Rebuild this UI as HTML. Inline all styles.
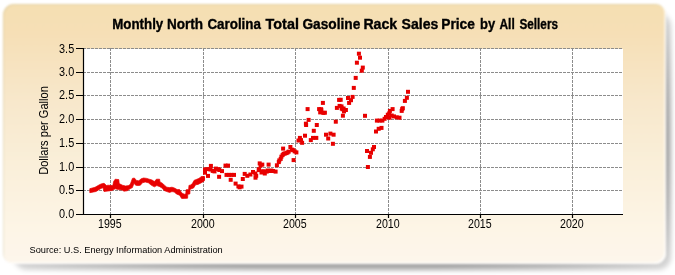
<!DOCTYPE html>
<html><head><meta charset="utf-8"><style>
html,body{margin:0;padding:0;background:#fff;}
body{width:675px;height:275px;overflow:hidden;position:relative;font-family:"Liberation Sans",sans-serif;}
#shw{position:absolute;left:0;top:0;width:675px;height:275px;-webkit-mask-image:radial-gradient(ellipse 451px 183px at 342px 141px,#000 72%,rgba(0,0,0,0.45) 100%);mask-image:radial-gradient(ellipse 451px 183px at 342px 141px,#000 72%,rgba(0,0,0,0.45) 100%);}
#shadow{position:absolute;left:14px;top:13px;width:657px;height:256.5px;border-radius:13px;background:rgba(0,0,0,0.35);filter:blur(2.6px);}
#box{position:absolute;left:2.8px;top:3.6px;width:663px;height:260.4px;border-radius:11px;
 background:linear-gradient(to bottom,#f5dfb2 0%,#f6dfb6 11%,#f8e8cc 38%,#faefd9 61%,#fdf5e6 86%,#fdf6ec 100%);
 box-shadow:inset 1px 1px 0 rgba(170,160,110,0.22), inset -1.5px -1.5px 0 rgba(255,255,255,0.9);filter:blur(1px);}
svg{position:absolute;left:0;top:0;filter:blur(0.25px);}
</style></head><body>
<div id="shw"><div id="shadow"></div></div><div id="box"></div>
<svg width="675" height="275" viewBox="0 0 675 275">
<rect x="84" y="49" width="539" height="165.5" fill="#fff"/>
<g stroke="#8c8c8c" stroke-width="1" stroke-dasharray="3,1" fill="none">
<path d="M83 48.5H623M83 72.5H623M83 95.5H623M83 119.5H623M83 143.5H623M83 167.5H623M83 190.5H623"/>
<path d="M110.5 48V214M203.5 48V214M295.5 48V214M388.5 48V214M480.5 48V214M572.5 48V214"/>
</g>
<g stroke="#000" stroke-width="1.2" fill="none">
<path d="M83.5 48V214.5H623"/>
<path d="M76 48.5H83.5M76 72.5H83.5M76 95.5H83.5M76 119.5H83.5M76 143.5H83.5M76 167.5H83.5M76 190.5H83.5M76 214.5H83.5"/>
<path d="M110.5 214.5V218M203.5 214.5V218M295.5 214.5V218M388.5 214.5V218M480.5 214.5V218M572.5 214.5V218"/>
</g>
<g fill="#e80000">
<path stroke="#e80000" stroke-width="0.7" stroke-linejoin="round" d="M89.8 188.7 L95.0 187.3 L99.0 185.0 L101.0 184.0 L104.0 183.3 L105.5 184.5 L106.5 185.5 L108.0 185.2 L112.8 185.6 L113.6 181.6 L115.2 179.2 L118.8 179.6 L119.2 183.6 L122.4 185.2 L125.6 186.0 L128.8 185.6 L130.4 184.0 L132.4 178.4 L134.4 178.0 L136.4 180.4 L138.8 180.8 L141.2 178.8 L143.6 178.0 L146.8 178.4 L149.2 179.2 L152.0 180.0 L154.4 181.6 L156.4 179.2 L159.6 179.2 L160.0 182.0 L162.4 183.2 L164.4 185.2 L166.8 187.2 L169.6 187.6 L172.0 187.2 L174.4 188.0 L177.2 189.6 L179.6 189.6 L182.0 193.2 L184.4 194.2 L185.8 194.0 L186.0 189.8 L188.6 189.6 L189.0 185.2 L190.0 185.4 L192.4 183.6 L194.0 180.4 L198.0 178.8 L202.0 177.2 L204.4 176.8 L204.4 180.8 L202.0 182.4 L198.0 184.4 L195.6 184.8 L193.6 188.0 L190.2 189.2 L189.8 194.0 L187.8 194.2 L187.6 198.2 L184.4 198.4 L181.6 198.4 L179.6 195.2 L176.4 194.0 L174.4 192.0 L172.0 191.6 L169.6 192.4 L166.8 191.6 L164.0 190.4 L162.0 188.0 L159.2 186.4 L156.8 185.6 L154.4 186.8 L152.0 185.6 L150.8 184.8 L148.4 182.8 L145.2 182.0 L142.4 182.8 L140.4 185.2 L138.0 185.6 L135.6 185.2 L134.0 183.2 L132.4 187.6 L130.0 188.8 L127.2 190.8 L124.0 191.2 L122.0 190.0 L118.4 189.6 L115.2 188.8 L112.0 190.5 L108.0 191.0 L104.0 191.5 L103.0 187.7 L102.0 188.0 L100.0 189.0 L96.0 191.5 L89.8 192.7Z"/><rect x="199.4" y="177.5" width="4.0" height="4.0"/><rect x="200.7" y="176.2" width="4.0" height="4.0"/><rect x="203.0" y="167.5" width="4.0" height="4.0"/><rect x="203.0" y="170.7" width="4.0" height="4.0"/><rect x="206.0" y="173.9" width="4.0" height="4.0"/><rect x="205.3" y="167.1" width="4.0" height="4.0"/><rect x="208.9" y="163.9" width="4.0" height="4.0"/><rect x="208.5" y="167.5" width="4.0" height="4.0"/><rect x="210.7" y="168.9" width="4.0" height="4.0"/><rect x="212.5" y="169.4" width="4.0" height="4.0"/><rect x="213.9" y="166.6" width="4.0" height="4.0"/><rect x="216.2" y="167.1" width="4.0" height="4.0"/><rect x="217.1" y="174.8" width="4.0" height="4.0"/><rect x="217.3" y="168.0" width="4.0" height="4.0"/><rect x="220.0" y="169.1" width="4.0" height="4.0"/><rect x="223.5" y="163.6" width="4.0" height="4.0"/><rect x="226.0" y="163.6" width="4.0" height="4.0"/><rect x="224.5" y="172.9" width="4.0" height="4.0"/><rect x="227.0" y="172.9" width="4.0" height="4.0"/><rect x="229.5" y="172.9" width="4.0" height="4.0"/><rect x="232.0" y="172.9" width="4.0" height="4.0"/><rect x="228.7" y="177.8" width="4.0" height="4.0"/><rect x="233.6" y="181.6" width="4.0" height="4.0"/><rect x="236.4" y="184.4" width="4.0" height="4.0"/><rect x="237.6" y="185.3" width="4.0" height="4.0"/><rect x="239.5" y="184.6" width="4.0" height="4.0"/><rect x="240.8" y="177.0" width="4.0" height="4.0"/><rect x="242.7" y="171.9" width="4.0" height="4.0"/><rect x="245.3" y="173.8" width="4.0" height="4.0"/><rect x="248.4" y="172.5" width="4.0" height="4.0"/><rect x="251.0" y="170.0" width="4.0" height="4.0"/><rect x="254.2" y="173.8" width="4.0" height="4.0"/><rect x="253.5" y="175.7" width="4.0" height="4.0"/><rect x="256.7" y="168.1" width="4.0" height="4.0"/><rect x="258.6" y="163.6" width="4.0" height="4.0"/><rect x="253.3" y="171.5" width="4.0" height="4.0"/><rect x="257.1" y="167.1" width="4.0" height="4.0"/><rect x="257.7" y="161.4" width="4.0" height="4.0"/><rect x="260.3" y="162.6" width="4.0" height="4.0"/><rect x="260.3" y="169.6" width="4.0" height="4.0"/><rect x="262.8" y="171.5" width="4.0" height="4.0"/><rect x="264.7" y="169.6" width="4.0" height="4.0"/><rect x="266.6" y="162.6" width="4.0" height="4.0"/><rect x="267.9" y="169.0" width="4.0" height="4.0"/><rect x="271.1" y="169.0" width="4.0" height="4.0"/><rect x="273.6" y="169.6" width="4.0" height="4.0"/><rect x="274.9" y="163.3" width="4.0" height="4.0"/><rect x="276.8" y="160.1" width="4.0" height="4.0"/><rect x="278.7" y="156.9" width="4.0" height="4.0"/><rect x="280.6" y="153.1" width="4.0" height="4.0"/><rect x="281.1" y="146.6" width="4.0" height="4.0"/><rect x="282.9" y="151.5" width="4.0" height="4.0"/><rect x="285.6" y="150.4" width="4.0" height="4.0"/><rect x="288.4" y="145.0" width="4.0" height="4.0"/><rect x="290.0" y="147.7" width="4.0" height="4.0"/><rect x="292.7" y="149.4" width="4.0" height="4.0"/><rect x="294.4" y="150.4" width="4.0" height="4.0"/><rect x="291.6" y="158.1" width="4.0" height="4.0"/><rect x="296.5" y="138.5" width="4.0" height="4.0"/><rect x="306.6" y="117.9" width="4.0" height="4.0"/><rect x="303.9" y="121.7" width="4.0" height="4.0"/><rect x="314.8" y="123.0" width="4.0" height="4.0"/><rect x="311.8" y="128.8" width="4.0" height="4.0"/><rect x="303.0" y="133.7" width="4.0" height="4.0"/><rect x="297.9" y="135.9" width="4.0" height="4.0"/><rect x="299.0" y="138.1" width="4.0" height="4.0"/><rect x="300.1" y="140.8" width="4.0" height="4.0"/><rect x="308.8" y="138.1" width="4.0" height="4.0"/><rect x="311.0" y="135.9" width="4.0" height="4.0"/><rect x="314.3" y="135.9" width="4.0" height="4.0"/><rect x="305.6" y="107.1" width="4.0" height="4.0"/><rect x="317.1" y="107.1" width="4.0" height="4.0"/><rect x="319.3" y="108.2" width="4.0" height="4.0"/><rect x="318.2" y="110.4" width="4.0" height="4.0"/><rect x="321.4" y="110.9" width="4.0" height="4.0"/><rect x="320.9" y="100.9" width="4.0" height="4.0"/><rect x="319.1" y="107.2" width="4.0" height="4.0"/><rect x="322.9" y="110.7" width="4.0" height="4.0"/><rect x="337.1" y="97.9" width="4.0" height="4.0"/><rect x="337.6" y="103.9" width="4.0" height="4.0"/><rect x="334.9" y="105.9" width="4.0" height="4.0"/><rect x="340.4" y="107.2" width="4.0" height="4.0"/><rect x="342.0" y="109.4" width="4.0" height="4.0"/><rect x="340.9" y="113.7" width="4.0" height="4.0"/><rect x="333.8" y="119.7" width="4.0" height="4.0"/><rect x="324.0" y="132.7" width="4.0" height="4.0"/><rect x="326.2" y="136.5" width="4.0" height="4.0"/><rect x="328.4" y="131.6" width="4.0" height="4.0"/><rect x="331.6" y="132.7" width="4.0" height="4.0"/><rect x="330.9" y="141.8" width="4.0" height="4.0"/><rect x="304.1" y="123.0" width="4.0" height="4.0"/><rect x="339.7" y="106.4" width="4.0" height="4.0"/><rect x="341.9" y="108.0" width="4.0" height="4.0"/><rect x="343.9" y="108.0" width="4.0" height="4.0"/><rect x="346.0" y="96.0" width="4.0" height="4.0"/><rect x="350.6" y="94.9" width="4.0" height="4.0"/><rect x="349.0" y="98.2" width="4.0" height="4.0"/><rect x="347.1" y="100.9" width="4.0" height="4.0"/><rect x="351.8" y="85.9" width="4.0" height="4.0"/><rect x="338.7" y="97.8" width="4.0" height="4.0"/><rect x="339.5" y="104.4" width="4.0" height="4.0"/><rect x="341.6" y="106.5" width="4.0" height="4.0"/><rect x="363.0" y="113.8" width="4.0" height="4.0"/><rect x="356.9" y="51.7" width="4.0" height="4.0"/><rect x="358.0" y="55.7" width="4.0" height="4.0"/><rect x="354.9" y="60.7" width="4.0" height="4.0"/><rect x="360.8" y="65.6" width="4.0" height="4.0"/><rect x="359.8" y="68.7" width="4.0" height="4.0"/><rect x="353.7" y="75.9" width="4.0" height="4.0"/><rect x="365.0" y="149.0" width="4.0" height="4.0"/><rect x="365.9" y="165.0" width="4.0" height="4.0"/><rect x="367.9" y="154.9" width="4.0" height="4.0"/><rect x="369.0" y="150.8" width="4.0" height="4.0"/><rect x="370.8" y="147.3" width="4.0" height="4.0"/><rect x="372.0" y="145.0" width="4.0" height="4.0"/><rect x="374.0" y="129.5" width="4.0" height="4.0"/><rect x="376.7" y="126.8" width="4.0" height="4.0"/><rect x="379.5" y="125.9" width="4.0" height="4.0"/><rect x="374.9" y="118.6" width="4.0" height="4.0"/><rect x="377.6" y="118.6" width="4.0" height="4.0"/><rect x="380.4" y="118.6" width="4.0" height="4.0"/><rect x="382.6" y="116.8" width="4.0" height="4.0"/><rect x="384.0" y="115.0" width="4.0" height="4.0"/><rect x="385.8" y="112.7" width="4.0" height="4.0"/><rect x="387.2" y="111.4" width="4.0" height="4.0"/><rect x="387.9" y="108.9" width="4.0" height="4.0"/><rect x="390.6" y="107.1" width="4.0" height="4.0"/><rect x="387.5" y="115.7" width="4.0" height="4.0"/><rect x="389.7" y="113.5" width="4.0" height="4.0"/><rect x="392.0" y="114.4" width="4.0" height="4.0"/><rect x="394.7" y="115.3" width="4.0" height="4.0"/><rect x="397.5" y="115.7" width="4.0" height="4.0"/><rect x="400.2" y="107.1" width="4.0" height="4.0"/><rect x="399.7" y="108.9" width="4.0" height="4.0"/><rect x="402.9" y="98.9" width="4.0" height="4.0"/><rect x="404.9" y="95.8" width="4.0" height="4.0"/><rect x="406.0" y="89.8" width="4.0" height="4.0"/><rect x="400.8" y="106.2" width="4.0" height="4.0"/><rect x="261.3" y="169.3" width="4.0" height="4.0"/><rect x="265.6" y="168.5" width="4.0" height="4.0"/><rect x="269.3" y="168.5" width="4.0" height="4.0"/><rect x="277.3" y="158.4" width="4.0" height="4.0"/><rect x="279.4" y="154.7" width="4.0" height="4.0"/><rect x="281.6" y="151.8" width="4.0" height="4.0"/><rect x="284.5" y="151.1" width="4.0" height="4.0"/><rect x="286.7" y="149.6" width="4.0" height="4.0"/><rect x="291.1" y="148.2" width="4.0" height="4.0"/><rect x="259.5" y="170.5" width="4.0" height="4.0"/>
</g>
<g font-family="Liberation Sans" font-size="12.4" fill="#000" text-anchor="end">
<text transform="translate(74.2,52.5) scale(0.88,1)">3.5</text>
<text transform="translate(74.2,76.2) scale(0.88,1)">3.0</text>
<text transform="translate(74.2,99.2) scale(0.88,1)">2.5</text>
<text transform="translate(74.2,123.2) scale(0.88,1)">2.0</text>
<text transform="translate(74.2,147.2) scale(0.88,1)">1.5</text>
<text transform="translate(74.2,171.2) scale(0.88,1)">1.0</text>
<text transform="translate(74.2,194.2) scale(0.88,1)">0.5</text>
<text transform="translate(74.2,218.2) scale(0.88,1)">0.0</text>
</g>
<g font-family="Liberation Sans" font-size="12.2" fill="#000" text-anchor="middle">
<text transform="translate(109.8,228.0) scale(0.873,1)">1995</text>
<text transform="translate(202.8,228.0) scale(0.873,1)">2000</text>
<text transform="translate(294.8,228.0) scale(0.873,1)">2005</text>
<text transform="translate(387.8,228.0) scale(0.873,1)">2010</text>
<text transform="translate(479.8,228.0) scale(0.873,1)">2015</text>
<text transform="translate(571.8,228.0) scale(0.873,1)">2020</text>
</g>
<text transform="translate(47.8,130.5) rotate(-90) scale(0.853,1)" text-anchor="middle" font-family="Liberation Sans" font-size="13" fill="#000">Dollars per Gallon</text>
<g font-family="Liberation Sans" font-size="14" font-weight="bold" fill="#000" stroke="#000" stroke-width="0.35">
<text transform="translate(112.25,28.9) scale(0.951,1)">Monthly</text>
<text transform="translate(167.03,28.9) scale(0.967,1)">North</text>
<text transform="translate(207.40,28.9) scale(0.957,1)">Carolina</text>
<text transform="translate(265.60,28.9) scale(1.028,1)">Total</text>
<text transform="translate(302.40,28.9) scale(0.980,1)">Gasoline</text>
<text transform="translate(363.39,28.9) scale(1.012,1)">Rack</text>
<text transform="translate(401.50,28.9) scale(1.008,1)">Sales</text>
<text transform="translate(441.22,28.9) scale(0.985,1)">Price</text>
<text transform="translate(480.07,28.9) scale(0.927,1)">by</text>
<text transform="translate(499.50,28.9) scale(0.853,1)">All</text>
<text transform="translate(519.50,28.9) scale(0.839,1)">Sellers</text>
</g>
<text transform="translate(29.5,252.7) scale(1.014,1)" font-family="Liberation Sans" font-size="9.1" fill="#000">Source: U.S. Energy Information Administration</text>
</svg>
</body></html>
